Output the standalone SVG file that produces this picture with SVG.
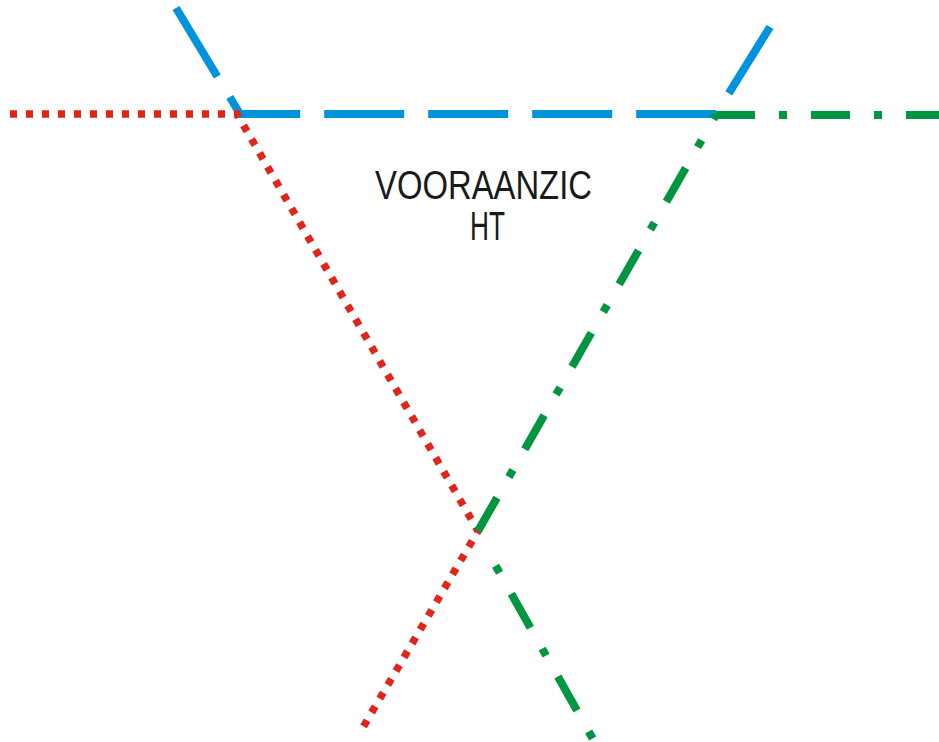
<svg xmlns="http://www.w3.org/2000/svg" width="939" height="742" viewBox="0 0 939 742">
<style>
.blue{fill:none;stroke:#0093dd;stroke-width:8;stroke-dasharray:80 24}
.red{fill:none;stroke:#e0251b;stroke-width:7.5;stroke-dasharray:7 9}
.green{fill:none;stroke:#009640;stroke-width:8;stroke-dasharray:39 24 8 24}
.lbl{font-family:"Liberation Sans",Arial,sans-serif;font-size:40px;fill:#1a1a1a}
</style>
<rect width="939" height="742" fill="#ffffff"/>
<g id="connectors">
<path class="blue" d="M176,8 L240,114 L716,114 L770,27"/>
<path class="red" d="M10,114 L237,114 L478,531 L362,729"/>
<path class="green" d="M716,115 L945,115"/>
<path class="green" d="M716,115 L478,531" style="stroke-dashoffset:34"/>
<path class="green" d="M483.9,544.9 L598,748" style="stroke-dashoffset:39"/>
</g>
<g id="label">
<text class="lbl" x="375" y="199" textLength="217" lengthAdjust="spacingAndGlyphs">VOORAANZIC</text>
<text class="lbl" x="470" y="240" textLength="35" lengthAdjust="spacingAndGlyphs">HT</text>
</g>
</svg>
